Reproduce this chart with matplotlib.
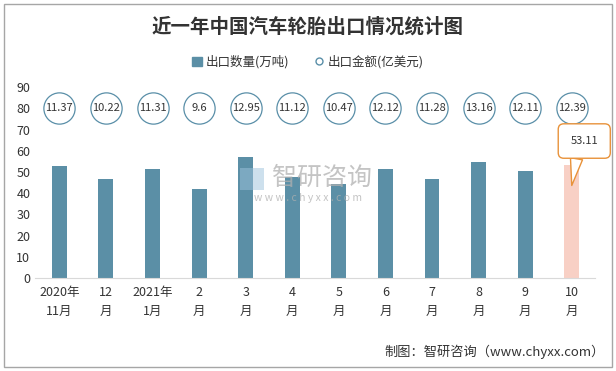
import matplotlib.pyplot as plt
from matplotlib.patches import Patch, Rectangle
from matplotlib.lines import Line2D

plt.rcParams['font.family'] = ['Noto Sans CJK SC', 'DejaVu Sans']

# data
months = ['2020年\n11月', '12\n月', '2021年\n1月', '2\n月', '3\n月', '4\n月',
          '5\n月', '6\n月', '7\n月', '8\n月', '9\n月', '10\n月']
volume = [52.8, 46.6, 51.4, 41.9, 57.0, 47.6, 44.4, 51.4, 46.6, 54.8, 50.4, 53.11]
amount = [11.37, 10.22, 11.31, 9.6, 12.95, 11.12, 10.47, 12.12, 11.28, 13.16, 12.11, 12.39]
circle_row = 80

bar_color = '#5B8FA6'
last_color = '#F8D0C5'

fig = plt.figure(figsize=(6.16, 3.71), dpi=100)
ax = fig.add_axes([0.057, 0.251, 0.909, 0.514])

x = range(len(months))
colors = [bar_color] * (len(volume) - 1) + [last_color]
ax.bar(x, volume, width=0.32, color=colors, zorder=2)

# amount shown as circles in a row
for i, v in enumerate(amount):
    ax.plot(i, circle_row, 'o', ms=22.5, mfc='white', mec='#5A8FA8', mew=0.9, zorder=3)
    ax.text(i, circle_row, str(v), ha='center', va='center', fontsize=8,
            color='#333333', zorder=4)

# callout on the last bar
ax.annotate(f'{volume[-1]:.2f}', xy=(len(volume) - 1, volume[-1] - 9.5),
            xytext=(9, 32), textcoords='offset points', ha='center', va='center',
            fontsize=8, color='#333333',
            bbox=dict(boxstyle='round,pad=1.1,rounding_size=0.5', fc='white',
                      ec='#E8923A', lw=1),
            arrowprops=dict(arrowstyle='wedge,tail_width=1.1,shrink_factor=0.5',
                            fc='white', ec='#E8923A', lw=1, relpos=(0.3, 0.0),
                            shrinkA=0, shrinkB=0),
            zorder=5)

ax.set_xlim(-0.52, len(months) - 0.5)
ax.set_ylim(0, 90)
ax.set_yticks(range(0, 91, 10))
ax.set_xticks(list(x))
ax.set_xticklabels(months, fontsize=9, color='#333333', linespacing=1.6)
ax.tick_params(axis='both', length=0, labelsize=9, colors='#333333')
ax.tick_params(axis='x', pad=6)
for s in ['top', 'right', 'left']:
    ax.spines[s].set_visible(False)
ax.spines['bottom'].set_color('#D9D9D9')

fig.text(0.5, 0.927, '近一年中国汽车轮胎出口情况统计图', ha='center', va='center',
         fontsize=14, fontweight='bold', color='#333333')

handles = [Patch(color=bar_color, label='出口数量(万吨)'),
           Line2D([], [], marker='o', ls='none', mfc='white', mec='#5A8FA8',
                  ms=5, label='出口金额(亿美元)')]
fig.legend(handles=handles, loc='center', bbox_to_anchor=(0.5, 0.833), ncol=2,
           frameon=False, fontsize=9, handlelength=0.8, handletextpad=0.3,
           columnspacing=2.0, labelcolor='#333333')

# watermark
fig.add_artist(Rectangle((240 / 616, 1 - 190 / 371), 24 / 616, 22 / 371,
                         transform=fig.transFigure, fc='#9DC3DD', ec='none',
                         alpha=0.5, zorder=1))
fig.text(0.522, 0.52, '智研咨询', ha='center', va='center', fontsize=18,
         color='#B0B0B0', alpha=0.75)
fig.text(0.5, 0.465, 'w w w . c h y x x . c o m', ha='center', va='center',
         fontsize=7.5, color='#B0B0B0', alpha=0.75)

fig.text(0.982, 0.051, '制图：智研咨询（www.chyxx.com）', ha='right', va='center',
         fontsize=9.5, color='#333333')

fig.add_artist(Rectangle((4 / 616, 4 / 371), 608 / 616, 363 / 371,
                         transform=fig.transFigure, fill=False, ec='#A6A6A6', lw=1))

fig.savefig('out.png', dpi=100)
